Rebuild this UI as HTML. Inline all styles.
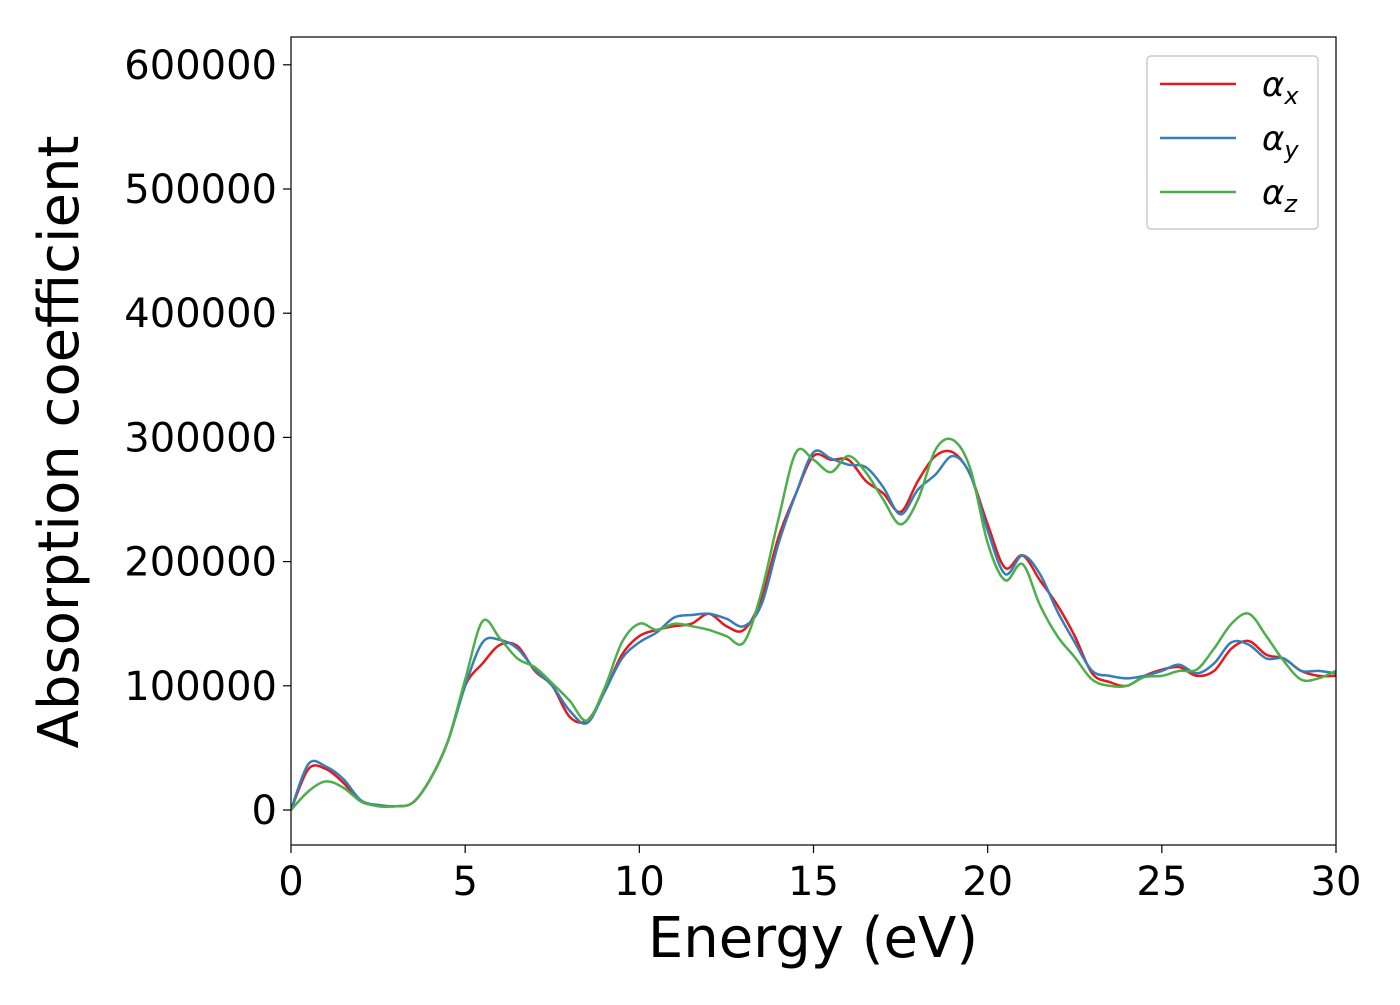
<!DOCTYPE html>
<html><head><meta charset="utf-8"><style>
body{margin:0;background:#fff;}
svg text{font-family:"DejaVu Sans","Liberation Sans",sans-serif;}
</style></head><body>
<svg id="chart" width="1400" height="1000" xmlns="http://www.w3.org/2000/svg">
<rect x="0" y="0" width="1400" height="1000" fill="#fff"/>
<g id="plot"></g>
<g id="axes"></g>
<text x="813" y="957" font-size="56" text-anchor="middle">Energy (eV)</text>
<text transform="translate(78,442) rotate(-90)" font-size="56" text-anchor="middle">Absorption coefficient</text>
<g>
<rect x="1147" y="56" width="171" height="173" rx="4" fill="#fff" stroke="#ccc" stroke-width="1.5"/>
<g><line x1="1160" y1="84" x2="1236" y2="84" stroke="#e41a1c" stroke-width="2.5"/><text x="1262" y="96" font-size="34" font-style="italic">α<tspan font-size="24" dy="8">x</tspan></text></g>
<g><line x1="1160" y1="138" x2="1236" y2="138" stroke="#377eb8" stroke-width="2.5"/><text x="1262" y="150" font-size="34" font-style="italic">α<tspan font-size="24" dy="8">y</tspan></text></g>
<g><line x1="1160" y1="192" x2="1236" y2="192" stroke="#4daf4a" stroke-width="2.5"/><text x="1262" y="204" font-size="34" font-style="italic">α<tspan font-size="24" dy="8">z</tspan></text></g>
</g>
</svg>
<script>
const xTicks=[0,5,10,15,20,25,30];
const yTicks=[0,100000,200000,300000,400000,500000,600000];
const ex=[0,0.5,1,1.5,2,2.5,3,3.5,4,4.5,5,5.5,6,6.5,7,7.5,8,8.5,9,9.5,10,10.5,11,11.5,12,12.5,13,13.5,14,14.5,15,15.5,16,16.5,17,17.5,18,18.5,19,19.5,20,20.5,21,21.5,22,22.5,23,23.5,24,24.5,25,25.5,26,26.5,27,27.5,28,28.5,29,29.5,30];
const alphaX=[0,33e3,33e3,22e3,7e3,4e3,3e3,6e3,25e3,55e3,100e3,118e3,133e3,132e3,112e3,100e3,75e3,72e3,95e3,125e3,140e3,145e3,148e3,150e3,158e3,148e3,145e3,170e3,220e3,255e3,285e3,282e3,282e3,265e3,255e3,240e3,265e3,285e3,288e3,270e3,230e3,195e3,205e3,185e3,165e3,140e3,110e3,103e3,100e3,108e3,113e3,115e3,108e3,112e3,130e3,136e3,125e3,122e3,112e3,108e3,108e3];
const alphaY=[0,37e3,35e3,25e3,8e3,4e3,3e3,6e3,25e3,55e3,100e3,135e3,137e3,130e3,113e3,100e3,80e3,70e3,95e3,122e3,135e3,143e3,155e3,157e3,158e3,154e3,148e3,165e3,215e3,255e3,288e3,283e3,278e3,276e3,260e3,238e3,258e3,270e3,285e3,270e3,225e3,190e3,205e3,190e3,160e3,135e3,112e3,108e3,106e3,108e3,112e3,117e3,110e3,118e3,135e3,133e3,122e3,122e3,112e3,112e3,110e3];
const alphaZ=[0,15e3,23e3,18e3,7e3,3e3,3e3,6e3,25e3,55e3,105e3,152e3,138e3,122e3,115e3,102e3,88e3,72e3,98e3,135e3,150e3,145e3,150e3,148e3,145e3,140e3,135e3,175e3,235e3,288e3,282e3,272e3,285e3,272e3,250e3,230e3,250e3,290e3,298e3,275e3,215e3,185e3,198e3,165e3,140e3,123e3,105e3,100e3,100e3,107e3,108e3,112e3,113e3,130e3,150e3,158e3,140e3,120e3,105e3,106e3,112e3];
const L=291,R=1336,T=37,B=845;
const sx=v=>L+(v-0)/(30-0)*(R-L);
const sy=v=>810-v/100000*124.2;
const NS="http://www.w3.org/2000/svg";
const plot=document.getElementById('plot'),axes=document.getElementById('axes');
function mk(tag,attrs,parent){const e=document.createElementNS(NS,tag);for(const k in attrs)e.setAttribute(k,attrs[k]);parent.appendChild(e);return e;}
function pathFor(xs,ys){const p=xs.map((x,i)=>[sx(x),sy(ys[i])]);let d=`M${p[0][0]},${p[0][1]}`;
for(let i=0;i<p.length-1;i++){const p0=p[Math.max(0,i-1)],p1=p[i],p2=p[i+1],p3=p[Math.min(p.length-1,i+2)];
const c1=[p1[0]+(p2[0]-p0[0])/6,p1[1]+(p2[1]-p0[1])/6],c2=[p2[0]-(p3[0]-p1[0])/6,p2[1]-(p3[1]-p1[1])/6];
d+=`C${c1[0]},${c1[1]} ${c2[0]},${c2[1]} ${p2[0]},${p2[1]}`;}return d;}
const series=[[alphaX,'#e41a1c','line-alpha-x'],[alphaY,'#377eb8','line-alpha-y'],[alphaZ,'#4daf4a','line-alpha-z']];
const clip=mk('clipPath',{id:'cp'},plot);mk('rect',{x:L,y:T,width:R-L,height:B-T},clip);
series.forEach(s=>{const e=mk('path',{d:pathFor(ex,s[0]),fill:'none',stroke:s[1],'stroke-width':2.5,'clip-path':'url(#cp)'},plot);

});
const fr=mk('rect',{x:L,y:T,width:R-L,height:B-T,fill:'none',stroke:'#000','stroke-width':1.2},axes);


xTicks.forEach(v=>{const x=sx(v);mk('line',{x1:x,y1:B,x2:x,y2:B+8,stroke:'#000','stroke-width':1.2},axes);
const t=mk('text',{x:x,y:B+50,'font-size':40,'text-anchor':'middle'},axes);t.textContent=v;

});
yTicks.forEach(v=>{const y=sy(v);mk('line',{x1:L-8,y1:y,x2:L,y2:y,stroke:'#000','stroke-width':1.2},axes);
const t=mk('text',{x:L-14,y:y+14,'font-size':40,'text-anchor':'end'},axes);t.textContent=v;

});
</script>
</body></html>
